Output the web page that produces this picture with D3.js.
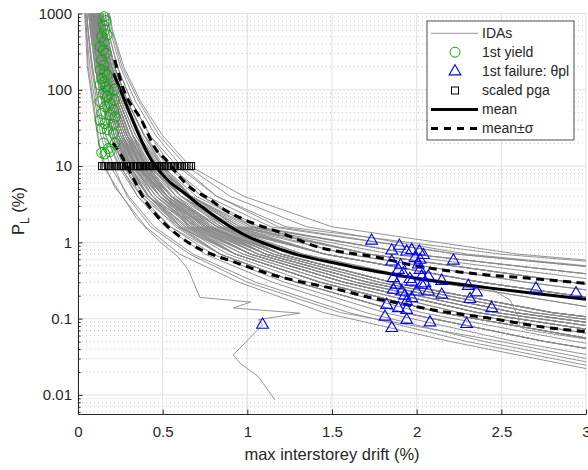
<!DOCTYPE html>
<html>
<head>
<meta charset="utf-8">
<script src="https://cdn.jsdelivr.net/npm/d3@7"></script>
<style>
  body { margin: 0; background: #fff; }
  text { font-family: "Liberation Sans", Arial, Helvetica, sans-serif; fill: #262626; }
</style>
</head>
<body>
<svg id="chart" width="588" height="470"></svg>
<script>
// Peak-ground-acceleration levels (P_L, %) at which every IDA run was evaluated
const plLevels = [2000, 600, 200, 70, 25, 10, 4, 1.6, 0.7, 0.3, 0.12, 0.05, 0.02];

// Max interstorey drift (%) of each IDA record at the levels above
const idaDrifts = [
  [0.04, 0.06, 0.085, 0.12, 0.165, 0.238, 0.352, 0.545, 0.84, 1.29, 1.92, 2.76, 3.84],
  [0.05, 0.073, 0.101, 0.14, 0.19, 0.254, 0.352, 0.515, 0.75, 1.15, 1.7, 2.4, 3.3],
  [0.05, 0.073, 0.101, 0.14, 0.19, 0.27, 0.396, 0.605, 0.93, 1.43, 2.14, 3.12],
  [0.06, 0.086, 0.117, 0.16, 0.215, 0.286, 0.396, 0.575, 0.84, 1.29, 1.92, 2.76, 3.84],
  [0.06, 0.086, 0.117, 0.16, 0.215, 0.302, 0.44, 0.665, 1.02, 1.57, 2.36, 3.48],
  [0.07, 0.099, 0.133, 0.18, 0.24, 0.31, 0.418, 0.59, 0.84, 1.29, 1.92, 2.76, 3.84],
  [0.07, 0.099, 0.133, 0.18, 0.24, 0.334, 0.484, 0.725, 1.11, 1.71, 2.58, 3.84],
  [0.08, 0.112, 0.149, 0.2, 0.265, 0.342, 0.52, 0.65, 0.93, 1.43, 2.14, 3.12],
  [0.08, 0.112, 0.149, 0.2, 0.265, 0.366, 0.528, 0.785, 1.2, 1.85, 2.8, 4.2],
  [0.09, 0.125, 0.165, 0.22, 0.29, 0.374, 0.506, 0.71, 1.02, 1.57, 2.36, 3.48],
  [0.09, 0.125, 0.165, 0.22, 0.29, 0.402, 0.58, 0.868, 1.46, 2.38, 3.64],
  [0.102, 0.138, 0.182, 0.244, 0.324, 0.413, 0.55, 0.77, 1.11, 1.71, 2.58, 3.84],
  [0.102, 0.138, 0.182, 0.244, 0.324, 0.40, 0.64, 0.958, 1.72, 2.91, 4.48],
  [0.114, 0.151, 0.199, 0.268, 0.358, 0.459, 0.61, 0.845, 1.2, 1.85, 2.8, 4.2],
  [0.114, 0.151, 0.199, 0.268, 0.358, 0.494, 0.70, 1.048, 1.98, 3.44],
  [0.126, 0.164, 0.216, 0.292, 0.392, 0.505, 0.67, 0.935, 1.46, 2.38, 3.64],
  [0.126, 0.164, 0.216, 0.292, 0.392, 0.54, 0.76, 1.138, 2.24, 3.97],
  [0.138, 0.177, 0.233, 0.316, 0.426, 0.551, 0.73, 1.025, 1.72, 2.91, 4.48],
  [0.15, 0.19, 0.25, 0.34, 0.46, 0.609, 0.82, 1.183, 2.24, 3.97],
  [0.138, 0.177, 0.233, 0.316, 0.426, 0.586, 0.82, 1.228, 2.5, 4.5],
  [0.06, 0.086, 0.117, 0.16, 0.215, 0.294, 0.418, 0.62, 0.93, 1.43, 2.14, 3.12],
  [0.07, 0.099, 0.133, 0.18, 0.24, 0.326, 0.462, 0.68, 1.02, 1.57, 2.36, 3.48],
  [0.08, 0.112, 0.149, 0.2, 0.265, 0.358, 0.506, 0.74, 1.11, 1.71, 2.58, 3.84],
  [0.09, 0.125, 0.165, 0.22, 0.29, 0.39, 0.55, 0.80, 1.2, 1.85, 2.8, 4.2],
  [0.102, 0.138, 0.182, 0.244, 0.324, 0.436, 0.61, 0.89, 1.46, 2.38, 3.64],
  [0.114, 0.151, 0.199, 0.268, 0.358, 0.482, 0.67, 0.98, 1.72, 2.91, 4.48],
  [0.08, 0.112, 0.149, 0.2, 0.265, 0.374, 0.55, 0.845, 1.46, 2.38, 3.64],
  [0.09, 0.125, 0.165, 0.22, 0.29, 0.382, 0.528, 0.755, 1.11, 1.71, 2.58, 3.84],
  [0.07, 0.099, 0.133, 0.18, 0.24, 0.342, 0.506, 0.77, 1.2, 1.85, 2.8, 4.2],
  [0.102, 0.138, 0.182, 0.244, 0.324, 0.402, 0.528, 0.68, 1.02, 1.57, 2.36, 3.48],
  [0.05, 0.073, 0.101, 0.14, 0.19, 0.278, 0.418, 0.65, 1.02, 1.57, 2.36, 3.48],
  [0.114, 0.151, 0.199, 0.268, 0.358, 0.448, 0.58, 0.785, 1.11, 1.71, 2.58, 3.84],
  [0.09, 0.125, 0.165, 0.22, 0.29, 0.413, 0.61, 0.935, 1.72, 2.91, 4.48],
  [0.06, 0.086, 0.117, 0.16, 0.215, 0.31, 0.41, 0.71, 1.11, 1.71, 2.58, 3.84],
  [0.126, 0.164, 0.216, 0.292, 0.392, 0.494, 0.64, 0.868, 1.2, 1.85, 2.8, 4.2],
  [0.07, 0.099, 0.133, 0.18, 0.24, 0.318, 0.44, 0.635, 0.93, 1.43, 2.14, 3.12],
  [0.102, 0.138, 0.182, 0.244, 0.324, 0.425, 0.58, 0.823, 1.2, 1.85, 2.8, 4.2],
  [0.08, 0.112, 0.149, 0.2, 0.265, 0.35, 0.484, 0.695, 1.02, 1.57, 2.36, 3.48],
  [0.09, 0.125, 0.165, 0.22, 0.29, 0.366, 0.484, 0.665, 0.93, 1.43, 2.14, 3.12],
  [0.04, 0.06, 0.085, 0.12, 0.165, 0.246, 0.374, 0.59, 0.93, 1.43, 2.14, 3.12],
  [0.07, 0.099, 0.133, 0.18, 0.24, 0.35, 0.528, 0.823, 1.46, 2.38, 3.64],
  [0.114, 0.151, 0.199, 0.268, 0.358, 0.471, 0.64, 0.913, 1.46, 2.38, 3.64],
  [0.06, 0.086, 0.117, 0.16, 0.215, 0.318, 0.484, 0.755, 1.2, 1.85, 2.8, 4.2],
  [0.126, 0.164, 0.216, 0.292, 0.392, 0.528, 0.73, 1.07, 1.98, 3.44],
  [0.08, 0.112, 0.149, 0.2, 0.265, 0.334, 0.44, 0.605, 0.84, 1.29, 1.92, 2.76, 3.84],
  [0.102, 0.138, 0.182, 0.244, 0.324, 0.459, 0.67, 1.025, 1.98, 3.44],
  [0.03, 0.045, 0.055, 0.085, 0.115, 0.15, 0.26, 0.40, 0.60, 0.95, 1.45, 2.2, 3.1],
  [0.035, 0.05, 0.07, 0.1, 0.135, 0.19, 0.3, 0.45, 0.68, 1.05, 1.6, 2.3, 3.2],
  [0.045, 0.058, 0.08, 0.11, 0.15, 0.21, 0.29, 0.43, 0.66, 1.0, 1.55, 2.5, 3.4],
  [0.16, 0.205, 0.27, 0.37, 0.5, 0.66, 0.98, 1.5, 2.6, 4.5],
  [0.15, 0.2, 0.26, 0.36, 0.48, 0.64, 0.9, 1.35, 2.3, 4.0],
  [0.055, 0.08, 0.109, 0.15, 0.203, 0.286, 0.418, 0.635, 0.975, 1.5, 2.25, 3.3],
  [0.065, 0.093, 0.125, 0.17, 0.228, 0.302, 0.418, 0.605, 0.885, 1.36, 2.03, 2.94, 4.11],
  [0.075, 0.106, 0.141, 0.19, 0.253, 0.35, 0.506, 0.755, 1.155, 1.78, 2.69, 4.02],
  [0.085, 0.119, 0.157, 0.21, 0.278, 0.366, 0.506, 0.725, 1.065, 1.64, 2.47, 3.66],
  [0.096, 0.132, 0.174, 0.232, 0.307, 0.402, 0.55, 0.785, 1.155, 1.78, 2.69, 4.02],
  [0.085, 0.119, 0.157, 0.21, 0.278, 0.382, 0.55, 0.823, 1.33, 2.115, 3.22],
  [0.108, 0.145, 0.191, 0.256, 0.341, 0.448, 0.61, 0.868, 1.33, 2.115, 3.22],
  [0.096, 0.132, 0.174, 0.232, 0.307, 0.425, 0.61, 0.913, 1.59, 2.645, 4.06],
  [0.075, 0.106, 0.141, 0.19, 0.253, 0.334, 0.462, 0.665, 0.975, 1.5, 2.25, 3.3],
  [0.065, 0.093, 0.125, 0.17, 0.228, 0.318, 0.462, 0.695, 1.065, 1.64, 2.47, 3.66],
  [0.12, 0.158, 0.208, 0.28, 0.375, 0.494, 0.67, 0.958, 1.59, 2.645, 4.06],
  [0.085, 0.119, 0.157, 0.21, 0.278, 0.374, 0.528, 0.77, 1.155, 1.78, 2.69, 4.02],
  [0.075, 0.106, 0.141, 0.19, 0.253, 0.342, 0.484, 0.71, 1.065, 1.64, 2.47, 3.66],
  [0.096, 0.132, 0.174, 0.232, 0.307, 0.39, 0.528, 0.74, 1.065, 1.64, 2.47, 3.66],
  [0.055, 0.08, 0.109, 0.15, 0.203, 0.27, 0.374, 0.545, 0.795, 1.22, 1.81, 2.58, 3.57],
  [0.108, 0.145, 0.191, 0.256, 0.341, 0.471, 0.67, 1.003, 1.85, 3.175]
];

// Records whose response is not monotonic: [drift %, P_L %] pairs
const idaIrregular = [
  [[0.04, 2000], [0.05, 600], [0.06, 200], [0.1, 50], [0.125, 20], [0.16, 10], [0.217, 5.3],
   [0.276, 3.6], [0.344, 2.1], [0.413, 1.45], [0.49, 0.99], [0.59, 0.65], [0.65, 0.44],
   [0.72, 0.19], [1.02, 0.165], [0.917, 0.138], [1.31, 0.118], [1.065, 0.097], [1.09, 0.083],
   [0.917, 0.0335], [0.957, 0.026], [1.065, 0.0174], [1.163, 0.0086]],
  [[0.1, 2000], [0.13, 600], [0.17, 200], [0.23, 70], [0.3, 25], [0.4, 10], [0.56, 4], [0.82, 1.6],
   [1.25, 0.7], [1.8, 0.4], [2.414, 0.263], [2.551, 0.176], [2.6, 0.106], [2.61, 0.0785],
   [2.65, 0.071], [3.1, 0.05]]
];

// First yield of each record: [drift %, P_L %]
const yieldPts = [
  [0.154, 908], [0.165, 805], [0.150, 707], [0.159, 608], [0.140, 497], [0.154, 427], [0.173, 523],
  [0.130, 367], [0.150, 333], [0.165, 301], [0.140, 246], [0.154, 211], [0.130, 182], [0.159, 173],
  [0.173, 156], [0.140, 141], [0.154, 128], [0.130, 116], [0.165, 110], [0.179, 99], [0.215, 101],
  [0.150, 90], [0.173, 81], [0.215, 73], [0.130, 70], [0.189, 66], [0.159, 60], [0.209, 54],
  [0.140, 49], [0.189, 47], [0.219, 44], [0.130, 40], [0.159, 36], [0.209, 35], [0.140, 31],
  [0.173, 30], [0.209, 27], [0.150, 20], [0.179, 17], [0.140, 15], [0.159, 14.4], [0.189, 15.5],
  [0.219, 20]
];

// First failure (theta_pl reached): [drift %, P_L %]
const failurePts = [
  [1.734, 1.05], [1.853, 0.78], [1.898, 0.90], [1.941, 0.755], [1.971, 0.79], [2.016, 0.755],
  [2.02, 0.59], [1.853, 0.56], [2.01, 0.51], [1.892, 0.435], [1.921, 0.39], [2.02, 0.435],
  [1.862, 0.34], [1.971, 0.305], [2.03, 0.355], [2.069, 0.355], [2.148, 0.312], [2.049, 0.29],
  [1.882, 0.277], [2.03, 0.277], [1.862, 0.238], [1.912, 0.226], [2.0, 0.226], [2.069, 0.226],
  [2.148, 0.205], [1.971, 0.185], [1.941, 0.167], [1.823, 0.151], [1.892, 0.137], [1.941, 0.13],
  [1.813, 0.106], [1.941, 0.096], [2.079, 0.089], [1.853, 0.075], [2.217, 0.575], [2.305, 0.268],
  [2.354, 0.22], [2.315, 0.18], [2.443, 0.137], [2.295, 0.085], [2.705, 0.247], [2.941, 0.215],
  [1.09, 0.083], [1.905, 0.5], [1.96, 0.33], [1.99, 0.62], [2.04, 0.68], [1.93, 0.2]
];

// Drift of each record at the scaled pga level
const pgaLevel = 10;
const pgaDrifts = [0.142, 0.155, 0.163, 0.178, 0.186, 0.197, 0.21, 0.222, 0.229, 0.241, 0.253,
  0.258, 0.27, 0.284, 0.291, 0.303, 0.312, 0.326, 0.333, 0.347, 0.352, 0.366, 0.374, 0.381, 0.395,
  0.402, 0.418, 0.425, 0.433, 0.447, 0.456, 0.463, 0.478, 0.487, 0.495, 0.508, 0.516, 0.529, 0.541,
  0.552, 0.567, 0.574, 0.589, 0.601, 0.612, 0.628, 0.641, 0.655, 0.668];

// Statistics of the IDA family: [drift %, P_L %]
const meanCurve = [[0.21, 164], [0.26, 88], [0.31, 47], [0.36, 25.5], [0.433, 12], [0.53, 6.58],
  [0.63, 4.4], [0.72, 3.06], [0.85, 1.89], [0.984, 1.25], [1.1, 0.97], [1.3, 0.686],
  [1.535, 0.524], [1.7, 0.44], [1.9, 0.367], [2.02, 0.331], [2.4, 0.257], [2.7, 0.214],
  [3.0, 0.18]];
const upperCurve = [[0.217, 246], [0.27, 100], [0.374, 40.2], [0.462, 16.3], [0.521, 12.0],
  [0.591, 7.6], [0.669, 5.1], [0.768, 3.8], [0.866, 2.66], [0.964, 2.07], [1.063, 1.69],
  [1.181, 1.38], [1.28, 1.13], [1.378, 0.925], [1.496, 0.79], [1.547, 0.755], [1.744, 0.65],
  [2.02, 0.48], [2.334, 0.39], [2.65, 0.34], [3.0, 0.29]];
const lowerCurve = [[0.207, 20], [0.246, 15], [0.325, 7.0], [0.394, 3.6], [0.462, 2.29],
  [0.531, 1.6], [0.63, 1.07], [0.728, 0.80], [0.827, 0.65], [0.917, 0.56], [1.023, 0.46],
  [1.114, 0.394], [1.311, 0.306], [1.547, 0.238], [1.744, 0.185], [1.9, 0.159], [2.098, 0.13],
  [2.433, 0.101], [2.728, 0.0786], [3.0, 0.0676]];

const xTicks = [0, 0.5, 1, 1.5, 2, 2.5, 3];
const xTickLabels = ["0", "0.5", "1", "1.5", "2", "2.5", "3"];
const yTicks = [0.01, 0.1, 1, 10, 100, 1000];
const yTickLabels = ["0.01", "0.1", "1", "10", "100", "1000"];
const legendLabels = ["IDAs", "1st yield", "1st failure: \u03b8pl", "scaled pga", "mean", "mean\u00b1\u03c3"];

(function draw() {
  // ---- layout ----
  const pl = 78, pr = 586, pt = 13.5, pb = 414;
  const svg = d3.select("#chart");

  const x = d3.scaleLinear().domain([0, 3]).range([pl, pr]);
  const y = d3.scaleLog().domain([Math.pow(10, -2.25), 1000]).range([pb, pt]);

  const GREY = "#888888", GREEN = "#00b000", BLUE = "#0000ff", AX = "#262626";

  // minor log values inside the domain
  const minorVals = [];
  for (let e = -3; e <= 2; e++) {
    for (let m = 2; m <= 9; m++) {
      const v = m * Math.pow(10, e);
      if (v >= y.domain()[0] && v <= 1000) minorVals.push(v);
    }
  }

  // ---- grid ----
  const grid = svg.append("g");
  grid.selectAll("line.minor").data(minorVals).join("line")
    .attr("x1", pl).attr("x2", pr)
    .attr("y1", d => y(d)).attr("y2", d => y(d))
    .attr("stroke", "#c4c4c4").attr("stroke-width", 1).attr("stroke-dasharray", "1,3");
  grid.append("g").selectAll("line").data(yTicks).join("line")
    .attr("x1", pl).attr("x2", pr)
    .attr("y1", d => y(d)).attr("y2", d => y(d))
    .attr("stroke", "#e0e0e0").attr("stroke-width", 1);
  grid.append("g").selectAll("line").data(xTicks).join("line")
    .attr("x1", d => x(d)).attr("x2", d => x(d))
    .attr("y1", pt).attr("y2", pb)
    .attr("stroke", "#e0e0e0").attr("stroke-width", 1);

  // ---- data layer ----
  svg.append("clipPath").attr("id", "plotClip")
    .append("rect").attr("x", pl).attr("y", pt).attr("width", pr - pl).attr("height", pb - pt);
  const plot = svg.append("g").attr("clip-path", "url(#plotClip)");

  const line = d3.line().x(d => x(d[0])).y(d => y(d[1]));
  const smooth = d3.line().x(d => x(d[0])).y(d => y(d[1])).curve(d3.curveMonotoneX);

  const idaSeries = idaDrifts.map(ds => ds.map((d, i) => [d, plLevels[i]])).concat(idaIrregular);
  plot.append("g").selectAll("path").data(idaSeries).join("path")
    .attr("d", line).attr("fill", "none").attr("stroke", GREY).attr("stroke-width", 0.9);

  // markers
  const markers = svg.append("g");
  markers.append("g").selectAll("circle").data(yieldPts).join("circle")
    .attr("cx", d => x(d[0])).attr("cy", d => y(d[1])).attr("r", 5)
    .attr("fill", "none").attr("stroke", GREEN).attr("stroke-width", 1);

  const tri = d3.symbol().type(d3.symbolTriangle).size(60);
  markers.append("g").selectAll("path").data(failurePts).join("path")
    .attr("transform", d => `translate(${x(d[0])},${y(d[1])})`)
    .attr("d", tri).attr("fill", "none").attr("stroke", BLUE).attr("stroke-width", 1.1);

  markers.append("g").selectAll("rect").data(pgaDrifts).join("rect")
    .attr("x", d => x(d) - 3.5).attr("y", y(pgaLevel) - 3.5)
    .attr("width", 7).attr("height", 7)
    .attr("fill", "none").attr("stroke", "#000").attr("stroke-width", 1);

  // statistics
  plot.append("path").datum(meanCurve).attr("d", smooth)
    .attr("fill", "none").attr("stroke", "#000").attr("stroke-width", 3);
  plot.append("g").selectAll("path").data([upperCurve, lowerCurve]).join("path")
    .attr("d", smooth).attr("fill", "none").attr("stroke", "#000").attr("stroke-width", 3)
    .attr("stroke-dasharray", "8,5.5");

  // ---- axes ----
  const yAxis = d3.axisLeft(y).tickValues(yTicks).tickFormat((d, i) => yTickLabels[i])
    .tickSizeInner(-4.5).tickSizeOuter(0).tickPadding(6);
  const yMinor = d3.axisLeft(y).tickValues(minorVals).tickFormat("").tickSizeInner(-2.7).tickSizeOuter(0);
  const xAxis = d3.axisBottom(x).tickValues(xTicks).tickFormat((d, i) => xTickLabels[i])
    .tickSizeInner(-4.5).tickSizeOuter(0).tickPadding(12);

  function styleAxis(g) {
    g.select(".domain").attr("stroke", AX).attr("stroke-width", 1);
    g.selectAll(".tick line").attr("stroke", AX);
    g.selectAll(".tick text").attr("fill", AX).style("font-size", "15px")
      .style("font-family", "'Liberation Sans', Arial, sans-serif");
  }
  svg.append("g").attr("transform", `translate(${pl},0)`).call(yMinor).call(styleAxis);
  svg.append("g").attr("transform", `translate(${pl},0)`).call(yAxis).call(styleAxis);
  svg.append("g").attr("transform", `translate(0,${pb})`).call(xAxis).call(styleAxis);

  // axis titles
  svg.append("text").attr("x", (pl + pr) / 2).attr("y", 460)
    .attr("text-anchor", "middle").style("font-size", "16.5px")
    .text("max interstorey drift (%)");
  const yl = svg.append("text").attr("transform", "translate(24,211) rotate(-90)")
    .attr("text-anchor", "middle").style("font-size", "16.5px");
  yl.append("tspan").text("P");
  yl.append("tspan").attr("dy", 5).style("font-size", "12px").text("L");
  yl.append("tspan").attr("dy", -5).text(" (%)");

  // ---- legend ----
  const lg = svg.append("g");
  lg.append("rect").attr("x", 427).attr("y", 21).attr("width", 147).attr("height", 119)
    .attr("fill", "#fff").attr("stroke", AX).attr("stroke-width", 0.8);
  const rowY = [33.3, 52.2, 71.5, 90.5, 109.5, 128.5];
  const lx1 = 431, lx2 = 478, lmx = 455, ltx = 482;
  lg.append("line").attr("x1", lx1).attr("x2", lx2).attr("y1", rowY[0]).attr("y2", rowY[0])
    .attr("stroke", GREY).attr("stroke-width", 0.9);
  lg.append("circle").attr("cx", lmx).attr("cy", rowY[1]).attr("r", 5)
    .attr("fill", "none").attr("stroke", GREEN).attr("stroke-width", 1);
  lg.append("path").attr("transform", `translate(${lmx},${rowY[2]})`).attr("d", tri)
    .attr("fill", "none").attr("stroke", BLUE).attr("stroke-width", 1.1);
  lg.append("rect").attr("x", lmx - 3.5).attr("y", rowY[3] - 3.5).attr("width", 7).attr("height", 7)
    .attr("fill", "none").attr("stroke", "#000").attr("stroke-width", 1);
  lg.append("line").attr("x1", lx1).attr("x2", lx2).attr("y1", rowY[4]).attr("y2", rowY[4])
    .attr("stroke", "#000").attr("stroke-width", 3);
  lg.append("line").attr("x1", lx1).attr("x2", lx2).attr("y1", rowY[5]).attr("y2", rowY[5])
    .attr("stroke", "#000").attr("stroke-width", 3).attr("stroke-dasharray", "7,6");
  lg.append("g").selectAll("text").data(legendLabels).join("text")
    .attr("x", ltx).attr("y", (d, i) => rowY[i]).attr("dy", "0.35em")
    .style("font-size", "14px").text(d => d);
})();
</script>
</body>
</html>
